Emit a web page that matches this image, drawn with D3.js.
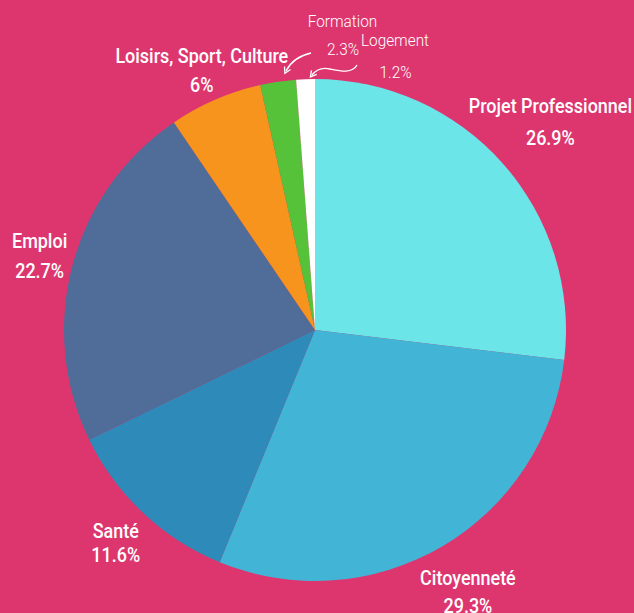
<!DOCTYPE html>
<html><head><meta charset="utf-8">
<script src="https://cdn.jsdelivr.net/npm/d3@7"></script>
<style>
html,body{margin:0;padding:0;background:#dd366f;}
svg{display:block;}
text{font-family:Roboto,"Noto Sans",sans-serif;fill:#fff;}
</style></head>
<body>
<svg id="c" width="634" height="613"></svg>
<script>
const categories = ["Projet Professionnel","Citoyenneté","Santé","Emploi","Loisirs, Sport, Culture","Formation","Logement"];
const values = [26.9, 29.3, 11.6, 22.7, 6, 2.3, 1.2];
const valueLabels = ["26.9%","29.3%","11.6%","22.7%","6%","2.3%","1.2%"];
const colors = ["#6be5e8","#42b5d6","#2e8ab8","#4f6d98","#f7941d","#55c23a","#ffffff"];

const W = 634, H = 613, cx = 315, cy = 330, R = 251;
const svg = d3.select("#c");
const g = svg.append("g").attr("transform", `translate(${cx},${cy})`);

const pie = d3.pie().sort(null).value(d => d);
const arcs = pie(values);
const arc = d3.arc().innerRadius(0).outerRadius(R);

g.selectAll("path.slice").data(arcs).enter().append("path")
  .attr("class","slice")
  .attr("d", arc)
  .attr("fill", (d,i) => colors[i]);

const SX = 0.856;
// label layout: [dx, name baseline offset, line gap, label radius]
const layout = {0:[2,-10,32,312], 1:[0,-5,28,302], 2:[0,-4,24,291], 3:[-1,-9,30,284], 4:[0,-5,29,285]};
arcs.forEach((a,i) => {
  if (i >= 5) return;
  const [dx, dy, gap, lr] = layout[i];
  const c = d3.arc().innerRadius(lr).outerRadius(lr).centroid(a);
  const x = c[0] + dx, y = c[1] + dy;
  const t = g.append("g").attr("transform", `translate(${x},${y}) scale(${SX},1)`)
    .append("text").attr("text-anchor","middle")
    .attr("font-weight","500").attr("font-size", 21);
  t.append("tspan").attr("x", 0).attr("y", 0).text(categories[i]);
  t.append("tspan").attr("x", 0).attr("y", gap).text(valueLabels[i]);
});

// small labels with arrows for Formation / Logement
function small(i, x, y1, y2) {
  const t = svg.append("g").attr("transform", `translate(${x},0) scale(0.93,1)`)
    .append("text").attr("text-anchor","middle").attr("font-size", 16.5).attr("font-weight","300");
  t.append("tspan").attr("x", 0).attr("y", y1).text(categories[i]);
  t.append("tspan").attr("x", 0.5).attr("y", y2).text(valueLabels[i]);
}
small(5, 342.5, 27, 55);
small(6, 395, 46, 78);

svg.append("defs").append("marker").attr("id","ah")
  .attr("viewBox","0 0 10 10").attr("refX",5).attr("refY",5)
  .attr("markerWidth",6).attr("markerHeight",6).attr("orient","auto-start-reverse")
  .append("path").attr("d","M1,1 L8,5 L1,9").attr("fill","none")
  .attr("stroke","#fff").attr("stroke-width",1.6);

svg.append("path")
  .attr("d","M311,53 C298,56 290,63 286,71")
  .attr("fill","none").attr("stroke","#fff").attr("stroke-width",1.4)
  .attr("marker-end","url(#ah)");
svg.append("path")
  .attr("d","M357,65 C352,74 340,71 330,69 C322,67 316,70 312,75")
  .attr("fill","none").attr("stroke","#fff").attr("stroke-width",1.4)
  .attr("marker-end","url(#ah)");
</script>
</body></html>
